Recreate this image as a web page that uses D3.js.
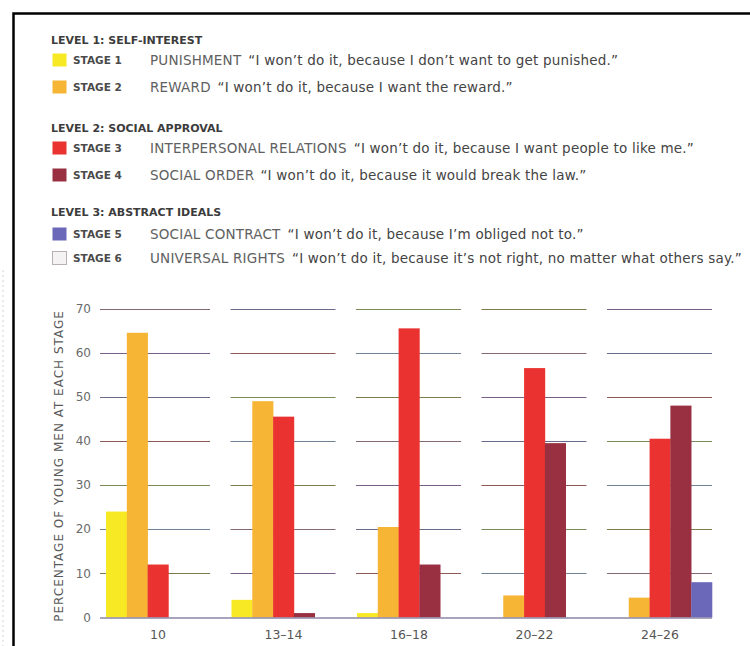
<!DOCTYPE html>
<html>
<head>
<meta charset="utf-8">
<script src="https://cdn.jsdelivr.net/npm/d3@7"></script>
<style>
  body { margin: 0; background: #fff; }
  svg { display: block; font-family: "DejaVu Sans", "Noto Sans", sans-serif; }
</style>
</head>
<body>
<div id="chart"></div>
<script>
// ---- DATA ----
const ageGroups = ["10", "13\u201314", "16\u201318", "20\u201322", "24\u201326"];
const stageLabels = ["STAGE 1", "STAGE 2", "STAGE 3", "STAGE 4", "STAGE 5", "STAGE 6"];
const stageNames = ["PUNISHMENT", "REWARD", "INTERPERSONAL RELATIONS", "SOCIAL ORDER", "SOCIAL CONTRACT", "UNIVERSAL RIGHTS"];
const stageQuotes = [
  "\u201cI won\u2019t do it, because I don\u2019t want to get punished.\u201d",
  "\u201cI won\u2019t do it, because I want the reward.\u201d",
  "\u201cI won\u2019t do it, because I want people to like me.\u201d",
  "\u201cI won\u2019t do it, because it would break the law.\u201d",
  "\u201cI won\u2019t do it, because I\u2019m obliged not to.\u201d",
  "\u201cI won\u2019t do it, because it\u2019s not right, no matter what others say.\u201d"
];
const levelTitles = ["LEVEL 1: SELF-INTEREST", "LEVEL 2: SOCIAL APPROVAL", "LEVEL 3: ABSTRACT IDEALS"];

// percentage of young men at each stage, per age group
const stage1 = [24, 4, 1, 0, 0];
const stage2 = [64.5, 49, 20.5, 5, 4.5];
const stage3 = [12, 45.5, 65.5, 56.5, 40.5];
const stage4 = [0, 1, 12, 39.5, 48];
const stage5 = [0, 0, 0, 0, 8];
const stage6 = [0, 0, 0, 0, 0];
const yTicks = [0, 10, 20, 30, 40, 50, 60, 70];

const stageColors = ["#f7ea24", "#f6b534", "#ea3330", "#983042", "#6b68b9", "#f4f2f2"];

// ---- CHART AREA ----
const W = 750, H = 646;
const svg = d3.select("#chart").append("svg")
  .attr("width", W)
  .attr("height", H);

// frame (scanned page edge)
svg.append("line").attr("x1", 3).attr("x2", 3).attr("y1", 270).attr("y2", H)
  .attr("stroke", "#d4d4d4").attr("stroke-dasharray", "2,3");
svg.append("path")
  .attr("d", "M13.5," + H + " V13.5 H" + W)
  .attr("fill", "none").attr("stroke", "#000").attr("stroke-width", 2.5);

// ---- LEGEND ----
const levelY = [40, 128, 212];
const rowY = [60, 87, 148, 175, 234, 258];

svg.selectAll(".level-title")
  .data(levelTitles)
  .enter().append("text")
  .attr("class", "level-title")
  .attr("x", 51)
  .attr("y", (d, i) => levelY[i])
  .attr("dy", "0.35em")
  .attr("font-size", 11)
  .attr("font-weight", 700)
  .attr("fill", "#3c3c3c")
  .text(d => d);

const rows = svg.selectAll(".legend-row")
  .data(stageLabels)
  .enter().append("g")
  .attr("class", "legend-row")
  .attr("transform", (d, i) => "translate(0," + rowY[i] + ")");

rows.append("rect")
  .attr("x", 52.5).attr("y", -6.5)
  .attr("width", 14).attr("height", 13)
  .attr("fill", (d, i) => stageColors[i])
  .attr("stroke", (d, i) => i === 5 ? "#b8b0b4" : "none");

rows.append("text")
  .attr("x", 73).attr("dy", "0.35em")
  .attr("font-size", 10.5)
  .attr("font-weight", 700)
  .attr("fill", "#4a4a4a")
  .text(d => d);

const desc = rows.append("text")
  .attr("x", 150).attr("dy", "0.35em")
  .attr("font-size", 13.5)
  .attr("letter-spacing", 0.2)
  .attr("fill", "#444");
desc.append("tspan").attr("fill", "#606060").text((d, i) => stageNames[i]);
desc.append("tspan").attr("dx", 7).text((d, i) => stageQuotes[i]);

// ---- BAR CHART ----
const x = d3.scaleBand()
  .domain(ageGroups)
  .range([106, 712])
  .paddingInner(0.171)
  .paddingOuter(0);

const barSeries = [stage1, stage2, stage3, stage4, stage5];
const xStage = d3.scaleBand()
  .domain(d3.range(barSeries.length))
  .range([0, x.bandwidth()]);

const y = d3.scaleLinear()
  .domain([0, 70])
  .range([617.5, 308.5]);

// gridlines per age group (scan gives them mixed tints)
const gridColors = ["#7f7a4e", "#7a6088", "#8e5a55", "#6f8296", "#846a70", "#6a6a8a", "#7a8a5a"];
ageGroups.forEach((g, gi) => {
  svg.selectAll(".grid-" + gi)
    .data(yTicks.filter(t => t > 0))
    .enter().append("line")
    .attr("class", "grid grid-" + gi)
    .attr("x1", gi === 0 ? x(g) - 6 : x(g) - 1)
    .attr("x2", x(g) + x.bandwidth())
    .attr("y1", d => Math.round(y(d)) + 0.5)
    .attr("y2", d => Math.round(y(d)) + 0.5)
    .attr("stroke", (d, i) => gridColors[(i * 3 + gi) % gridColors.length])
    .attr("stroke-width", 1);
});

// bars
const barData = [];
ageGroups.forEach((g, gi) => {
  barSeries.forEach((s, si) => barData.push({group: g, stage: si, value: s[gi]}));
});

svg.selectAll(".bar")
  .data(barData.filter(d => d.value > 0))
  .enter().append("rect")
  .attr("class", "bar")
  .attr("x", d => x(d.group) + xStage(d.stage))
  .attr("y", d => y(d.value))
  .attr("width", xStage.bandwidth() + 0.3)
  .attr("height", d => y(0) - y(d.value))
  .attr("fill", d => stageColors[d.stage]);

// baseline
svg.append("line")
  .attr("x1", 100).attr("x2", x(ageGroups[4]) + x.bandwidth())
  .attr("y1", y(0) + 0.5).attr("y2", y(0) + 0.5)
  .attr("stroke", "#8b86a6").attr("stroke-width", 1.5);

// y axis labels
svg.selectAll(".ytick")
  .data(yTicks)
  .enter().append("text")
  .attr("class", "ytick")
  .attr("x", 91)
  .attr("y", d => y(d))
  .attr("dy", "0.35em")
  .attr("text-anchor", "end")
  .attr("font-size", 12)
  .attr("fill", "#6a6a6a")
  .text(d => d);

// x axis labels
svg.selectAll(".xtick")
  .data(ageGroups)
  .enter().append("text")
  .attr("class", "xtick")
  .attr("x", d => x(d) + x.bandwidth() / 2)
  .attr("y", 635)
  .attr("dy", "0.35em")
  .attr("text-anchor", "middle")
  .attr("font-size", 12.5)
  .attr("fill", "#555")
  .text(d => d);

// y axis title
svg.append("text")
  .attr("transform", "translate(59," + 466 + ") rotate(-90)")
  .attr("text-anchor", "middle")
  .attr("dy", "0.35em")
  .attr("font-size", 12)
  .attr("fill", "#5a5a5a")
  .attr("letter-spacing", 1)
  .text("PERCENTAGE OF YOUNG MEN AT EACH STAGE");
</script>
</body>
</html>
